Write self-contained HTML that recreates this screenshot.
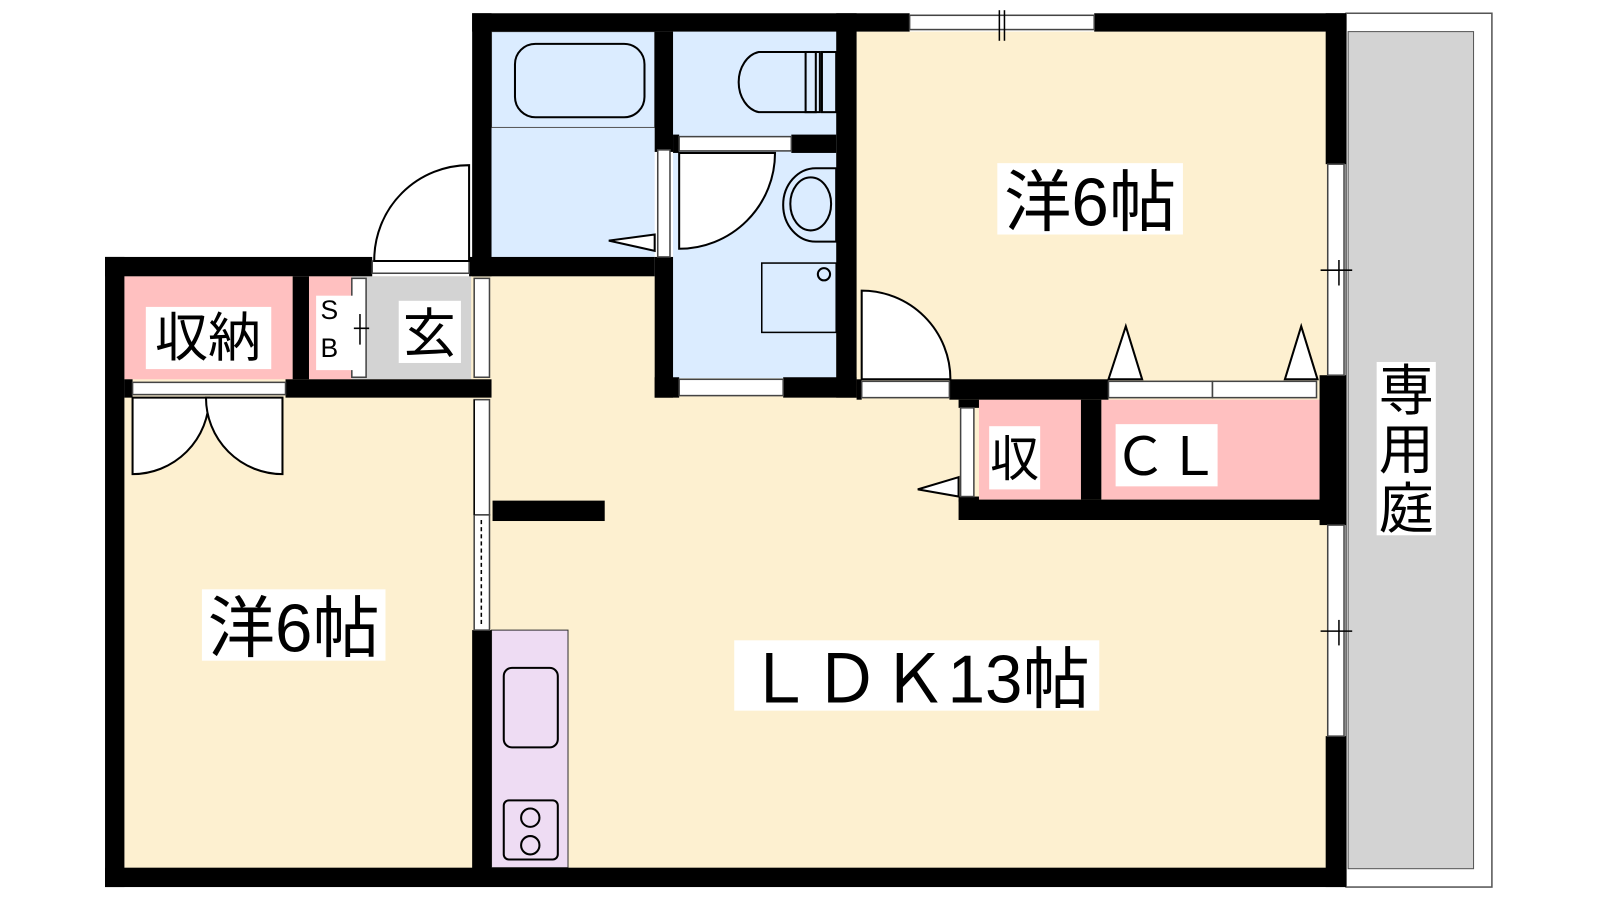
<!DOCTYPE html>
<html><head><meta charset="utf-8"><style>
html,body{margin:0;padding:0;background:#fff;width:1600px;height:900px;overflow:hidden}
text{font-family:"Liberation Sans","Noto Sans CJK JP",sans-serif;fill:#000}
</style></head><body>
<svg width="1600" height="900" viewBox="0 0 1569 882.7" preserveAspectRatio="none" xmlns="http://www.w3.org/2000/svg">
<!-- garden -->
<rect x="1320" y="13" width="143" height="857" fill="#fff" stroke="#555" stroke-width="1.5"/>
<rect x="1322" y="31" width="123" height="821" fill="#d3d3d3" stroke="#555" stroke-width="1"/>
<!-- floor fills -->
<rect x="122" y="271" width="1180" height="582" fill="#fdf0d0"/>
<rect x="840" y="31" width="462" height="342" fill="#fdf0d0"/>
<rect x="482" y="31" width="160" height="221" fill="#dbecff"/>
<rect x="660" y="31" width="160" height="340" fill="#dbecff"/>
<rect x="122" y="271" width="165" height="101" fill="#ffc0c0"/>
<rect x="303" y="271" width="42" height="101" fill="#ffc0c0"/>
<rect x="345" y="271" width="117" height="101" fill="#d3d3d3"/>
<rect x="960" y="392" width="100" height="98" fill="#ffc0c0"/>
<rect x="1080" y="392" width="220" height="98" fill="#ffc0c0"/>
<rect x="482" y="618" width="75" height="233" fill="#eedcf3" stroke="#333" stroke-width="1"/>
<rect x="482" y="31" width="160" height="94" fill="none" stroke="#555" stroke-width="1"/>
<!-- walls -->
<g fill="#000">
<rect x="463" y="13" width="429" height="18"/>
<rect x="1073" y="13" width="247" height="18"/>
<rect x="1300" y="13" width="20" height="148"/>
<rect x="1294" y="368" width="26" height="147"/>
<rect x="1300" y="722" width="20" height="148"/>
<rect x="103" y="851" width="1217" height="19"/>
<rect x="103" y="252" width="19" height="618"/>
<rect x="103" y="252" width="262" height="19"/>
<rect x="460" y="252" width="182" height="19"/>
<rect x="463" y="13" width="19" height="258"/>
<rect x="642" y="31" width="18" height="118"/>
<rect x="642" y="252" width="18" height="138"/>
<rect x="660" y="132" width="6" height="18"/>
<rect x="776" y="132" width="44" height="18"/>
<rect x="820" y="13" width="20" height="377"/>
<rect x="642" y="370" width="24" height="20"/>
<rect x="768" y="370" width="72" height="20"/>
<rect x="287" y="271" width="16" height="101"/>
<rect x="122" y="372" width="8" height="18"/>
<rect x="280" y="372" width="202" height="18"/>
<rect x="463" y="618" width="19" height="235"/>
<rect x="483" y="491" width="110" height="20"/>
<rect x="840" y="372" width="5" height="20"/>
<rect x="931" y="372" width="156" height="20"/>
<rect x="1060" y="392" width="20" height="98"/>
<rect x="940" y="490" width="360" height="20"/>
<rect x="940" y="392" width="20" height="8"/>
<rect x="940" y="487" width="20" height="5"/>
</g>
<!-- window / door frames -->
<g fill="#fff" stroke="#444" stroke-width="1.5">
<rect x="892" y="15" width="181" height="14"/>
<rect x="1302" y="161" width="16" height="207"/>
<rect x="1302" y="515" width="16" height="207"/>
<rect x="365" y="256" width="95" height="12"/>
<rect x="645" y="147" width="12" height="105"/>
<rect x="666" y="134" width="110" height="14"/>
<rect x="666" y="372" width="102" height="16"/>
<rect x="845" y="374" width="86" height="16"/>
<rect x="1087" y="374" width="102" height="16"/>
<rect x="1189" y="374" width="102" height="16"/>
<rect x="942" y="400" width="13" height="87"/>
<rect x="130" y="375" width="150" height="12"/>
<rect x="465" y="273" width="15" height="97"/>
<rect x="465" y="392" width="15" height="113"/>
<rect x="465" y="505" width="15" height="113"/>
<rect x="345" y="273" width="14" height="97"/>
</g>
<g stroke="#000" stroke-width="1.5" fill="none">
<line x1="980" y1="10" x2="980" y2="40"/><line x1="985" y1="10" x2="985" y2="40"/>
<line x1="1295" y1="265" x2="1326" y2="265"/><line x1="1313" y1="255" x2="1313" y2="280"/>
<line x1="1295" y1="619" x2="1326" y2="619"/><line x1="1313" y1="608" x2="1313" y2="633"/>
<line x1="472" y1="510" x2="472" y2="615" stroke-dasharray="4,3"/>
<line x1="343" y1="322" x2="362" y2="322"/><line x1="353" y1="308" x2="353" y2="338"/>
<line x1="465" y1="392" x2="465" y2="505"/>
</g>
<!-- doors -->
<g fill="#fff" stroke="#000" stroke-width="2">
<path d="M367 256 V255 A93 93 0 0 1 460 162 V256 Z"/>
<path d="M666 150 H760 A94 94 0 0 1 666 244 Z"/>
<path d="M845 372 V285 A87 87 0 0 1 932 372 Z"/>
<path d="M130 390 V465 A75 75 0 0 0 205 390 Z"/>
<path d="M277 390 V465 A75 75 0 0 1 202 390 Z"/>
<path d="M642 230 L597 236 L642 246 Z"/>
<path d="M940 468 L900 480 L940 487 Z"/>
<path d="M1087 372 L1104 320 L1120 372 Z"/>
<path d="M1260 372 L1276 320 L1292 372 Z"/>
</g>
<!-- fixtures -->
<g fill="none" stroke="#000" stroke-width="2">
<rect x="505" y="43" width="127" height="72" rx="20"/>
<path d="M804 51 H744 A24 30 0 0 0 744 110 H804 Z"/>
<rect x="790" y="51" width="10" height="59"/><rect x="806" y="51" width="14" height="59"/>
<path d="M800 165 H820 V237 H800 A32 36 0 0 1 800 165 Z"/>
<ellipse cx="795" cy="200" rx="20" ry="26"/>
<rect x="747" y="258" width="73" height="68" stroke-width="1.5"/>
<circle cx="808" cy="269" r="6"/>
<rect x="494" y="655" width="53" height="78" rx="8"/>
<rect x="494" y="785" width="53" height="58" rx="5"/>
<circle cx="520" cy="802" r="9"/><circle cx="520" cy="829" r="9"/>
</g>
<!-- labels -->
<g>
<rect x="978" y="160" width="182" height="70" fill="#fff"/>
<text x="1069" y="221" font-size="66" text-anchor="middle">洋6帖</text>
<rect x="198" y="578" width="180" height="70" fill="#fff"/>
<text x="288" y="639" font-size="66" text-anchor="middle">洋6帖</text>
<rect x="720" y="628" width="358" height="69" fill="#fff"/>
<text x="900" y="689" font-size="66" text-anchor="middle">ＬＤＫ13帖</text>
<rect x="143" y="301" width="123" height="61" fill="#fff"/>
<text x="204" y="349" font-size="52" text-anchor="middle">収納</text>
<rect x="310" y="290" width="37" height="73" fill="#fff"/>
<text x="323" y="313" font-size="26" text-anchor="middle">S</text>
<text x="323" y="350" font-size="26" text-anchor="middle">B</text>
<rect x="391" y="295" width="61" height="61" fill="#fff"/>
<text x="421" y="345" font-size="52" text-anchor="middle">玄</text>
<rect x="970" y="418" width="50" height="62" fill="#fff"/>
<text x="995" y="467" font-size="48" text-anchor="middle">収</text>
<rect x="1094" y="416" width="100" height="61" fill="#fff"/>
<text x="1144" y="466" font-size="52" text-anchor="middle">ＣＬ</text>
<rect x="1350" y="355" width="58" height="170" fill="#fff"/>
<text x="1379" y="402" font-size="54" text-anchor="middle">専</text>
<text x="1379" y="460" font-size="54" text-anchor="middle">用</text>
<text x="1379" y="518" font-size="54" text-anchor="middle">庭</text>
</g>
</svg>
</body></html>
